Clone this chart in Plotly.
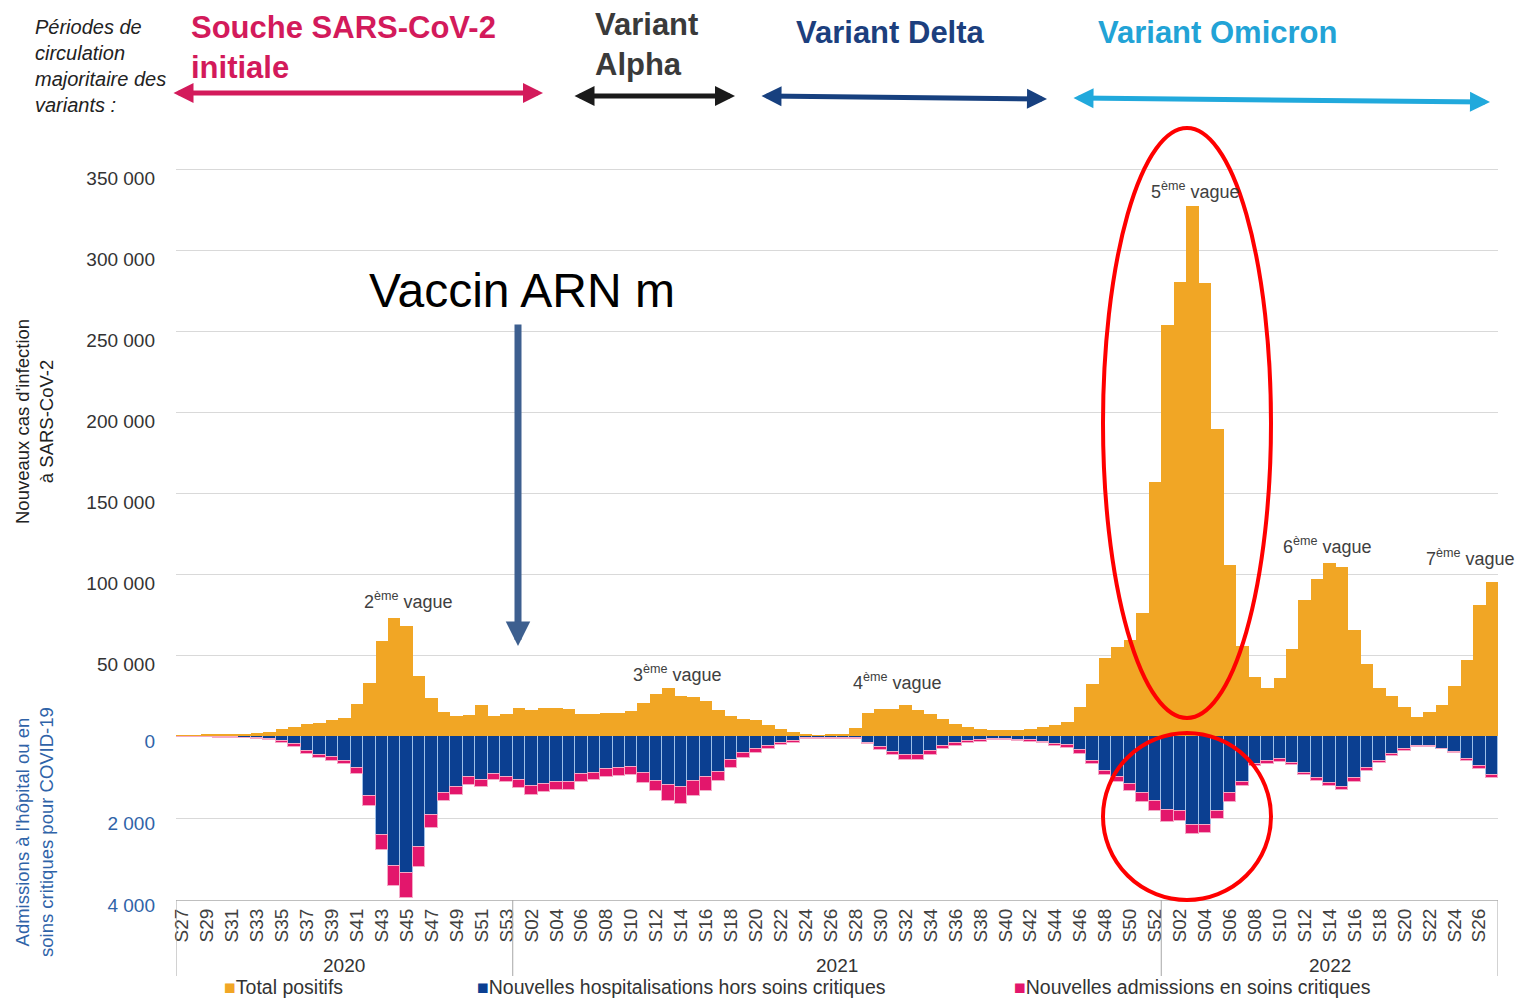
import plotly.graph_objects as go

# ---------------- data ----------------
years = ["2020", "2021", "2022"]
weeks_2020 = [f"S{w:02d}" for w in range(27, 54)]   # S27..S53
weeks_2021 = [f"S{w:02d}" for w in range(1, 53)]    # S01..S52
weeks_2022 = [f"S{w:02d}" for w in range(1, 28)]    # S01..S27

week_labels = weeks_2020 + weeks_2021 + weeks_2022
week_ids = ([f"2020-{w}" for w in weeks_2020] + [f"2021-{w}" for w in weeks_2021]
            + [f"2022-{w}" for w in weeks_2022])

# Total positifs (nouveaux cas d'infection)
total_positifs = [
    500, 600, 700, 900, 1100, 1300, 1800, 2500, 4300, 5800, 7200, 8200, 9900, 11000,
    20000, 33000, 58600, 72600, 68000, 37000, 23700, 14600, 12600, 13000, 19000, 12300, 13600,
    17500, 16000, 17500, 17000, 16400, 13300, 13500, 14000, 14000, 15300, 20400, 26000, 29400,
    25000, 24000, 21400, 16300, 12600, 10200, 9800, 6500, 4500, 2400, 1000, 600, 800, 1400,
    5000, 14000, 16700, 16700, 19000, 16300, 13300, 10600, 7600, 5500, 4500, 3700, 3700, 3900,
    4500, 5700, 6500, 8600, 18000, 31800, 48300, 55200, 59400, 76000, 156900,
    253500, 280300, 327300, 279500, 189700, 105800, 55800, 36700, 29800, 35900, 53900, 84200,
    96700, 106900, 104400, 65500, 44200, 29600, 24900, 18000, 11600, 14600, 19300, 30900,
    47000, 80900, 95300,
]

# Admissions totales (hospitalisations + soins critiques)
admissions_totales = [
    30, 30, 35, 40, 40, 60, 80, 90, 160, 275, 437, 543, 600, 690, 930, 1716, 2785, 3660, 3943,
    3190, 2243, 1595, 1450, 1190, 1247, 1085, 1134,
    1271, 1433, 1377, 1328, 1328, 1125, 1085, 988, 984, 943, 1148, 1352, 1574, 1656, 1459, 1352,
    1107, 779, 533, 410, 328, 230, 180, 82, 66, 66, 66, 82, 205, 344, 475, 574, 574, 475, 328,
    246, 180, 148, 98, 107, 123, 139, 180, 246, 287, 436, 676, 960, 1112, 1330, 1614, 1832,
    2094, 2072, 2378, 2355, 2028, 1614, 1221, 742, 676, 632, 709, 960, 1090, 1221, 1309, 1123,
    851, 654, 491, 360, 273, 273, 327, 414, 611, 807, 1036,
]

# Nouvelles admissions en soins critiques
soins_critiques = [
    10, 10, 10, 10, 10, 15, 20, 20, 35, 80, 73, 80, 97, 90, 146, 243, 380, 486, 590, 486, 324,
    200, 200, 186, 162, 154, 146,
    186, 202, 210, 218, 218, 202, 194, 178, 205, 189, 246, 246, 369, 410, 352, 352, 221, 189,
    123, 98, 82, 50, 57, 25, 20, 20, 20, 25, 40, 82, 90, 107, 107, 107, 82, 66, 57, 49, 33, 33,
    33, 33, 41, 41, 57, 87, 76, 109, 109, 153, 218, 251,
    294, 240, 218, 196, 196, 218, 109, 65, 76, 65, 55, 65, 76, 76, 76, 87, 65, 55, 55, 33, 33,
    33, 22, 33, 44, 65, 76,
]

# Nouvelles hospitalisations hors soins critiques
hors_soins_critiques = [t - c for t, c in zip(admissions_totales, soins_critiques)]

series_names = ["Total positifs", "Nouvelles hospitalisations hors soins critiques",
                "Nouvelles admissions en soins critiques"]

cases_ticks = [50000, 100000, 150000, 200000, 250000, 300000, 350000]
cases_ticktext = ["50 000", "100 000", "150 000", "200 000", "250 000", "300 000", "350 000"]
hosp_ticks = [0, 2000, 4000]
hosp_ticktext = ["0", "2 000", "4 000"]

# ---------------- style / geometry ----------------
W, H = 1519, 998
L, R, T, B = 176, 1498, 160, 900
ZERO_PX = 736
TOP_TICK_PX = 169
FONT = "Liberation Sans, Arial, sans-serif"

ORANGE = "#F1A625"
BLUE = "#0B3F91"
PINK = "#E3166C"
HOSP_BLUE = "#2F63A8"


def px(xp):
    return (xp - L) / (R - L)


def py(yp):
    return (B - yp) / (B - T)


y_top = 350000 * (ZERO_PX - T) / (ZERO_PX - TOP_TICK_PX)
split = py(ZERO_PX)

fig = go.Figure()
fig.add_bar(x=week_ids, y=total_positifs, name=series_names[0],
            marker=dict(color=ORANGE, line=dict(width=0)), yaxis="y")
fig.add_bar(x=week_ids, y=hors_soins_critiques, name=series_names[1],
            marker=dict(color=BLUE, line=dict(color="#9DBFE8", width=1)), yaxis="y2")
fig.add_bar(x=week_ids, y=soins_critiques, name=series_names[2],
            marker=dict(color=PINK, line=dict(color="#F4A9C6", width=1)), yaxis="y2")

annotations = []
shapes = []


def text(xp, yp, s, size, color, xanchor="left", yanchor="middle", align="left", angle=0):
    annotations.append(dict(x=px(xp), y=py(yp), xref="paper", yref="paper", text=s,
                            showarrow=False, xanchor=xanchor, yanchor=yanchor, align=align,
                            textangle=angle, font=dict(family=FONT, size=size, color=color)))


def arrow(x0, y0, x1, y1, color, width, size, both=True):
    annotations.append(dict(x=px(x1), y=py(y1), xref="paper", yref="paper", text="",
                            showarrow=True, ax=x0 - x1, ay=y0 - y1, axref="pixel", ayref="pixel",
                            arrowhead=2, startarrowhead=2, arrowsize=size, startarrowsize=size,
                            arrowwidth=width, arrowcolor=color, standoff=0, startstandoff=0,
                            arrowside="end+start" if both else "end"))


# variant periods
text(33, 14, "<i>Périodes de<br>circulation<br>majoritaire des<br>variants :</i>", 20, "#222222",
     yanchor="top")
text(189, 8, "<b>Souche SARS-CoV-2<br>initiale</b>", 31, "#D31A5B", yanchor="top")
text(593, 5, "<b>Variant<br>Alpha</b>", 31, "#3A3A3A", yanchor="top")
text(794, 32, "<b>Variant Delta</b>", 31, "#1C3F7E")
text(1096, 32, "<b>Variant Omicron</b>", 31, "#22A3D6")
arrow(172, 93, 543, 93, "#D31A5B", 5, 0.8)
arrow(573, 96, 735, 96, "#1A1A1A", 5, 0.8)
arrow(760, 96, 1047, 99, "#17407F", 5, 0.8)
arrow(1072, 98, 1490, 102, "#21A9DC", 5, 0.8)

# vaccine
text(522, 290, "Vaccin ARN m", 48, "#000000", xanchor="center")
arrow(518, 323, 518, 646, "#3D5F8F", 7, 0.7, both=False)

# waves
wave = "<sup>ème</sup> vague"
text(408, 600, "2" + wave, 18, "#404040", xanchor="center")
text(677, 673, "3" + wave, 18, "#404040", xanchor="center")
text(897, 681, "4" + wave, 18, "#404040", xanchor="center")
text(1195, 190, "5" + wave, 18, "#404040", xanchor="center")
text(1327, 545, "6" + wave, 18, "#404040", xanchor="center")
text(1470, 557, "7" + wave, 18, "#404040", xanchor="center")

# axis titles
text(34, 422, "Nouveaux cas d'infection<br>à SARS-CoV-2", 18.5, "#222222", xanchor="center",
     align="center", angle=-90)
text(34, 832, "Admissions à l'hôpital ou en<br>soins critiques pour COVID-19", 18.5, HOSP_BLUE,
     xanchor="center", align="center", angle=-90)

# years (category index positions)
year_bounds = [(0, len(weeks_2020)),
               (len(weeks_2020), len(weeks_2020) + len(weeks_2021)),
               (len(weeks_2020) + len(weeks_2021), len(week_ids))]
for yr, (a, b) in zip(years, year_bounds):
    annotations.append(dict(x=(a + b - 1) / 2, y=py(965), xref="x", yref="paper", text=yr,
                            showarrow=False, xanchor="center", yanchor="middle",
                            font=dict(family=FONT, size=19, color="#333333")))
for bnd in [0, year_bounds[1][0], year_bounds[2][0], len(week_ids)]:
    shapes.append(dict(type="line", xref="x", yref="paper", x0=bnd - 0.5, x1=bnd - 0.5,
                       y0=0, y1=py(976), line=dict(color="#A6A6A6", width=1)))

# legend (colour squares + labels, as in the original)
for xp, name, col in zip([222, 475, 1012], series_names, [ORANGE, BLUE, PINK]):
    text(xp, 987, f"<span style='color:{col}'>■</span>{name}", 19.5, "#333333")

# highlight ellipses
shapes.append(dict(type="circle", xref="paper", yref="paper", x0=px(1103), x1=px(1271),
                   y0=py(718), y1=py(128), line=dict(color="#FF0000", width=4)))
shapes.append(dict(type="circle", xref="paper", yref="paper", x0=px(1103), x1=px(1271),
                   y0=py(900), y1=py(733), line=dict(color="#FF0000", width=4)))

fig.update_layout(
    width=W, height=H,
    margin=dict(l=L, r=W - R, t=T, b=H - B, pad=0, autoexpand=False),
    paper_bgcolor="white", plot_bgcolor="white",
    barmode="stack", bargap=0, showlegend=False,
    font=dict(family=FONT, color="#333333"),
    xaxis=dict(type="category", anchor="y2", categoryorder="array", categoryarray=week_ids,
               tickmode="array", tickvals=week_ids[::2], ticktext=week_labels[::2],
               tickangle=-90, tickfont=dict(family=FONT, size=19, color="#404040"),
               showline=True, linecolor="#BFBFBF", linewidth=1, showgrid=False, ticks="",
               range=[-0.5, len(week_ids) - 0.5], automargin=False),
    yaxis=dict(domain=[split, 1], anchor="x", range=[0, y_top], tickmode="array",
               tickvals=cases_ticks, ticktext=cases_ticktext,
               tickfont=dict(family=FONT, size=19, color="#333333"),
               gridcolor="#D9D9D9", gridwidth=1, zeroline=False, showline=False,
               ticklabelstandoff=20, ticklabelshift=9, automargin=False),
    yaxis2=dict(domain=[0, split], anchor="x", range=[4000, 0], tickmode="array",
                tickvals=hosp_ticks, ticktext=hosp_ticktext,
                tickfont=dict(family=FONT, size=19, color=HOSP_BLUE),
                gridcolor="#D9D9D9", gridwidth=1, zeroline=False, showline=False,
                ticklabelstandoff=20, ticklabelshift=-5, automargin=False),
    annotations=annotations,
    shapes=shapes,
)

fig.write_html("out.html", config={"displayModeBar": False},
               post_script="document.body.style.margin='0';")
